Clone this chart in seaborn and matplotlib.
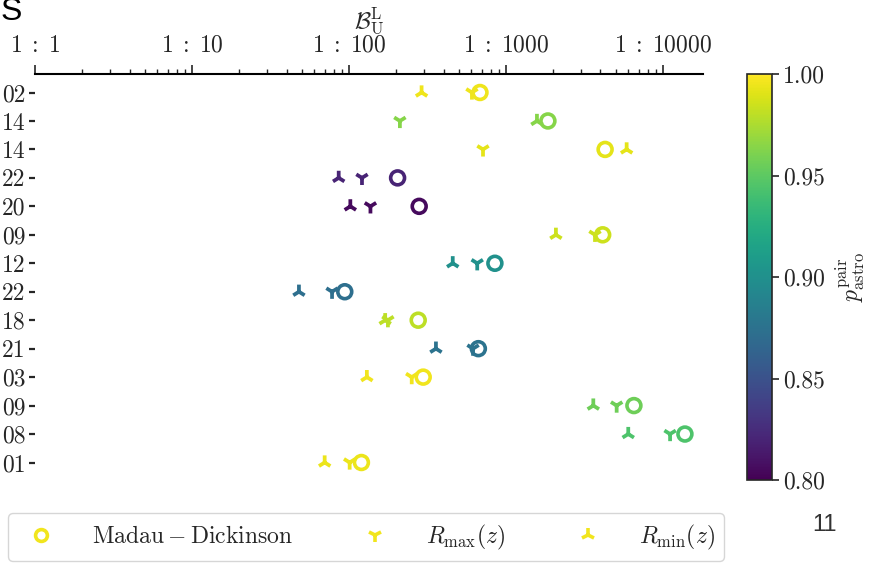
import numpy as np
import pandas as pd
import matplotlib
matplotlib.use("Agg")
import matplotlib.pyplot as plt
import seaborn as sns
from matplotlib.lines import Line2D
from matplotlib.ticker import FixedLocator, FuncFormatter, LogLocator, NullFormatter

# ---- data ----
event_labels = ["02", "14", "14", "22", "20", "09", "12", "22", "18", "21", "03", "09", "08", "01"]
bf_madau = [683, 1850, 4280, 204, 280, 4130, 850, 94, 276, 667, 297, 6530, 13800, 120]
bf_rmax = [607, 211, 714, 121, 137, 3690, 656, 78, 177, 617, 251, 5070, 11100, 101]
bf_rmin = [290, 1575, 5870, 86, 102, 2080, 458, 48, 170, 358, 130, 3600, 6010, 70]
p_astro = [0.995, 0.964, 0.992, 0.82, 0.805, 0.985, 0.90, 0.872, 0.98, 0.876, 0.996, 0.956, 0.944, 0.994]
x_ticks = [1, 10, 100, 1000, 10000]
cbar_ticks = [0.80, 0.85, 0.90, 0.95, 1.00]

sns.set_style("white")
plt.rcParams["font.family"] = ["serif"]
plt.rcParams["font.serif"] = ["cmr10", "DejaVu Serif"]
plt.rcParams["mathtext.fontset"] = "cm"
plt.rcParams["axes.formatter.use_mathtext"] = True

FS = 17

rows = np.arange(len(event_labels))
df = pd.DataFrame({"row": rows, "madau": bf_madau, "rmax": bf_rmax,
                   "rmin": bf_rmin, "p": p_astro})

fig = plt.figure(figsize=(8.75, 5.63), dpi=100)
ax = fig.add_axes([35 / 875, 1 - 481 / 563, (703 - 35) / 875, (481 - 74) / 563])
cax = fig.add_axes([747 / 875, 1 - 480 / 563, 25 / 875, (480 - 74) / 563])

norm = (0.8, 1.0)
sns.scatterplot(data=df, x="rmin", y="row", hue="p", palette="viridis", hue_norm=norm,
                marker="2", s=105, linewidth=2.7, legend=False, ax=ax)
sns.scatterplot(data=df, x="rmax", y="row", hue="p", palette="viridis", hue_norm=norm,
                marker="1", s=105, linewidth=2.7, legend=False, ax=ax)
n_before = len(ax.collections)
sns.scatterplot(data=df, x="madau", y="row", hue="p", palette="viridis", hue_norm=norm,
                marker="o", s=100, linewidth=2.6, legend=False, ax=ax)
coll = ax.collections[n_before]
fc = coll.get_facecolors()
coll.set_edgecolors(fc)
coll.set_facecolors("none")

ax.set_xscale("log")
ax.set_xlim(1, 10 ** 4.255)
ax.set_ylim(len(rows) - 1 + 0.65, -0.65)

ax.xaxis.set_ticks_position("top")
ax.xaxis.set_label_position("top")
ax.xaxis.set_major_locator(FixedLocator(x_ticks))
ax.xaxis.set_major_formatter(FuncFormatter(lambda v, p: r"$1\;:\;%d$" % int(round(v))))
ax.xaxis.set_minor_locator(LogLocator(base=10, subs=np.arange(2, 10), numticks=20))
ax.xaxis.set_minor_formatter(NullFormatter())
ax.tick_params(axis="x", which="major", length=6.5, width=1.2, labelsize=FS, pad=6)
ax.tick_params(axis="x", which="minor", length=3.6, width=1.0)
ax.set_xlabel(r"$\mathcal{B}^{\rm L}_{\rm U}$", fontsize=FS, labelpad=5)
ax.set_ylabel("")

ax.set_yticks(rows)
ax.set_yticklabels(event_labels)
ax.tick_params(axis="y", which="major", length=4, width=1.6, labelsize=FS, pad=3, left=True)

for side in ["left", "right", "bottom"]:
    ax.spines[side].set_visible(False)
ax.spines["top"].set_linewidth(1.5)
ax.spines["top"].set_color("black")

sm = matplotlib.cm.ScalarMappable(norm=matplotlib.colors.Normalize(*norm), cmap="viridis")
cb = fig.colorbar(sm, cax=cax, ticks=cbar_ticks)
cb.ax.set_yticklabels(["%.2f" % t for t in cbar_ticks])
cb.ax.tick_params(labelsize=FS, length=5, width=1.2, pad=3)
cb.outline.set_linewidth(1.2)
cb.set_label(r"$p_{\rm astro}^{\rm pair}$", fontsize=FS, labelpad=6)

ylw = plt.get_cmap("viridis")(0.98)
handles = [
    Line2D([], [], marker="o", linestyle="none", markerfacecolor="none", markeredgecolor=ylw,
           markeredgewidth=2.6, markersize=8.5),
    Line2D([], [], marker="1", linestyle="none", color=ylw, markeredgewidth=2.6, markersize=10),
    Line2D([], [], marker="2", linestyle="none", color=ylw, markeredgewidth=2.6, markersize=10),
]
labels = [r"$\rm Madau-Dickinson$", r"$R_{\max}(z)$", r"$R_{\min}(z)$"]
leg = fig.legend(handles, labels, loc="upper left", ncol=3,
                 bbox_to_anchor=(8 / 875, 1 - 513 / 563),
                 borderaxespad=0, fontsize=FS, frameon=True, fancybox=True,
                 handletextpad=1.15, columnspacing=2.5, borderpad=0.4)
leg.get_frame().set_edgecolor("#cccccc")

fig.text(0.5 / 875, 1 - 20 / 563, "S", fontsize=23, family=["Liberation Sans", "DejaVu Sans"],
         ha="left", va="baseline", color="black")
fig.text(825 / 875, 1 - 531 / 563, "11", fontsize=17, family=["Liberation Sans", "DejaVu Sans"],
         ha="center", va="baseline", color="#333333")

fig.savefig("out.png", dpi=100)
